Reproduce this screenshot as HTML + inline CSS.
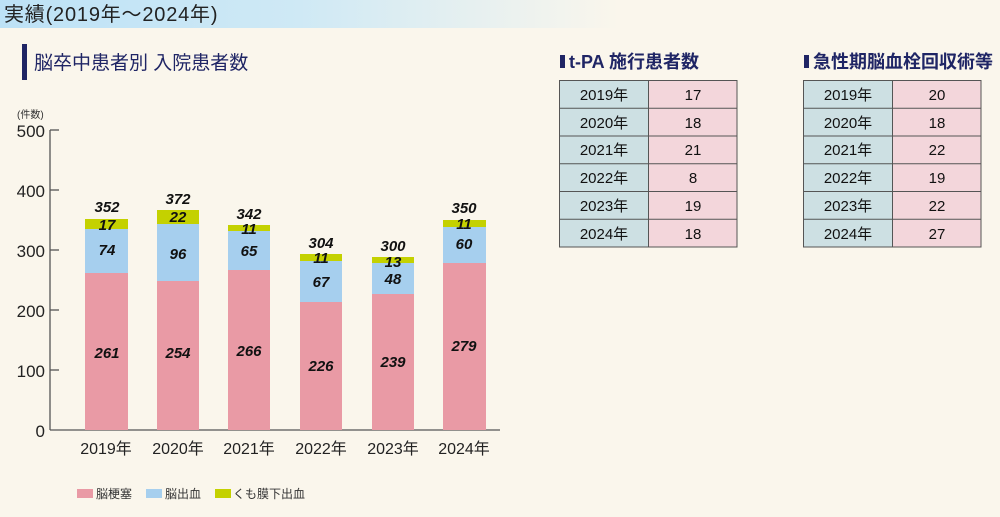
<!DOCTYPE html>
<html><head><meta charset="utf-8"><style>
html,body{margin:0;padding:0;}
body{width:1000px;height:512px;background:#faf6ec;overflow:hidden;}
svg text{font-family:"Liberation Sans","Noto Sans CJK JP",sans-serif;}
</style></head><body>
<svg width="1000" height="512" viewBox="0 0 1000 512" xmlns="http://www.w3.org/2000/svg">
<defs><linearGradient id="hg" x1="0" x2="1" y1="0" y2="0">
<stop offset="0" stop-color="#bde2f6"/><stop offset="0.3" stop-color="#cfe9f5"/><stop offset="0.62" stop-color="#faf6ec"/></linearGradient></defs>
<rect width="1000" height="512" fill="#faf6ec"/>
<rect width="1000" height="28" fill="url(#hg)"/>
<text x="4" y="21" font-size="20" letter-spacing="0.8" fill="#222">実績(2019年～2024年)</text>

<rect x="22" y="44" width="5" height="36" fill="#1f2565"/>
<text x="34" y="69" font-size="19" fill="#1f2565">脳卒中患者別 入院患者数</text>
<rect x="560" y="55" width="5" height="13" fill="#1f2565"/>
<text x="569" y="68" font-size="18" font-weight="bold" fill="#1f2565">t-PA 施行患者数</text>
<rect x="804" y="55" width="5" height="13" fill="#1f2565"/>
<text x="813" y="68" font-size="18" font-weight="bold" fill="#1f2565">急性期脳血栓回収術等</text>

<text x="17" y="118" font-size="10" fill="#333">(件数)</text>
<g font-size="17" fill="#222" text-anchor="end">
<text x="45" y="137">500</text><text x="45" y="197">400</text><text x="45" y="257">300</text>
<text x="45" y="317">200</text><text x="45" y="377">100</text><text x="45" y="437">0</text></g>
<g stroke="#555" stroke-width="1.3">
<line x1="50" y1="130" x2="50" y2="430"/><line x1="50" y1="430" x2="500" y2="430"/>
<line x1="50" y1="130" x2="59" y2="130"/><line x1="50" y1="190" x2="59" y2="190"/>
<line x1="50" y1="250" x2="59" y2="250"/><line x1="50" y1="310" x2="59" y2="310"/>
<line x1="50" y1="370" x2="59" y2="370"/></g>

<g>
<rect x="85" y="273" width="43" height="157" fill="#e99aa5"/><rect x="85" y="229" width="43" height="44" fill="#a6cfee"/><rect x="85" y="219" width="43" height="10" fill="#c4d100"/>
<rect x="157" y="281" width="42" height="149" fill="#e99aa5"/><rect x="157" y="224" width="42" height="57" fill="#a6cfee"/><rect x="157" y="210" width="42" height="14" fill="#c4d100"/>
<rect x="228" y="270" width="42" height="160" fill="#e99aa5"/><rect x="228" y="231" width="42" height="39" fill="#a6cfee"/><rect x="228" y="225" width="42" height="6" fill="#c4d100"/>
<rect x="300" y="302" width="42" height="128" fill="#e99aa5"/><rect x="300" y="261" width="42" height="41" fill="#a6cfee"/><rect x="300" y="254" width="42" height="7" fill="#c4d100"/>
<rect x="372" y="294" width="42" height="136" fill="#e99aa5"/><rect x="372" y="263" width="42" height="31" fill="#a6cfee"/><rect x="372" y="257" width="42" height="6" fill="#c4d100"/>
<rect x="443" y="263" width="43" height="167" fill="#e99aa5"/><rect x="443" y="227" width="43" height="36" fill="#a6cfee"/><rect x="443" y="220" width="43" height="7" fill="#c4d100"/>
</g>
<g font-size="15" font-style="italic" font-weight="bold" fill="#111" text-anchor="middle">
<text x="107" y="212">352</text><text x="107" y="230">17</text><text x="107" y="255">74</text><text x="107" y="358">261</text>
<text x="178" y="204">372</text><text x="178" y="222">22</text><text x="178" y="259">96</text><text x="178" y="358">254</text>
<text x="249" y="219">342</text><text x="249" y="234">11</text><text x="249" y="256">65</text><text x="249" y="356">266</text>
<text x="321" y="248">304</text><text x="321" y="263">11</text><text x="321" y="287">67</text><text x="321" y="371">226</text>
<text x="393" y="251">300</text><text x="393" y="267">13</text><text x="393" y="284">48</text><text x="393" y="367">239</text>
<text x="464" y="213">350</text><text x="464" y="229">11</text><text x="464" y="249">60</text><text x="464" y="351">279</text>
</g>
<g font-size="16" fill="#222" text-anchor="middle">
<text x="106" y="454">2019年</text><text x="178" y="454">2020年</text><text x="249" y="454">2021年</text>
<text x="321" y="454">2022年</text><text x="393" y="454">2023年</text><text x="464" y="454">2024年</text></g>
<rect x="77" y="489" width="16" height="9" fill="#e99aa5"/><text x="96" y="498" font-size="12" fill="#333">脳梗塞</text>
<rect x="146" y="489" width="16" height="9" fill="#a6cfee"/><text x="165" y="498" font-size="12" fill="#333">脳出血</text>
<rect x="215" y="489" width="16" height="9" fill="#c4d100"/><text x="233" y="498" font-size="12" fill="#333">くも膜下出血</text>

<g stroke="#555" stroke-width="1">
<g>
<rect x="559.5" y="80.5" width="89" height="166.5" fill="#cde0e3"/><rect x="648.5" y="80.5" width="88.5" height="166.5" fill="#f3d6db"/>
<line x1="559.5" x2="737" y1="108.25" y2="108.25"/><line x1="559.5" x2="737" y1="136" y2="136"/><line x1="559.5" x2="737" y1="163.75" y2="163.75"/><line x1="559.5" x2="737" y1="191.5" y2="191.5"/><line x1="559.5" x2="737" y1="219.25" y2="219.25"/>
</g>
<g>
<rect x="803.5" y="80.5" width="89" height="166.5" fill="#cde0e3"/><rect x="892.5" y="80.5" width="88.5" height="166.5" fill="#f3d6db"/>
<line x1="803.5" x2="981" y1="108.25" y2="108.25"/><line x1="803.5" x2="981" y1="136" y2="136"/><line x1="803.5" x2="981" y1="163.75" y2="163.75"/><line x1="803.5" x2="981" y1="191.5" y2="191.5"/><line x1="803.5" x2="981" y1="219.25" y2="219.25"/>
</g></g>
<g font-size="15" fill="#111" text-anchor="middle">
<text x="604" y="100">2019年</text><text x="604" y="128">2020年</text><text x="604" y="155">2021年</text><text x="604" y="183">2022年</text><text x="604" y="211">2023年</text><text x="604" y="239">2024年</text>
<text x="693" y="100">17</text><text x="693" y="128">18</text><text x="693" y="155">21</text><text x="693" y="183">8</text><text x="693" y="211">19</text><text x="693" y="239">18</text>
<text x="848" y="100">2019年</text><text x="848" y="128">2020年</text><text x="848" y="155">2021年</text><text x="848" y="183">2022年</text><text x="848" y="211">2023年</text><text x="848" y="239">2024年</text>
<text x="937" y="100">20</text><text x="937" y="128">18</text><text x="937" y="155">22</text><text x="937" y="183">19</text><text x="937" y="211">22</text><text x="937" y="239">27</text>
</g>
</svg>
</body></html>
